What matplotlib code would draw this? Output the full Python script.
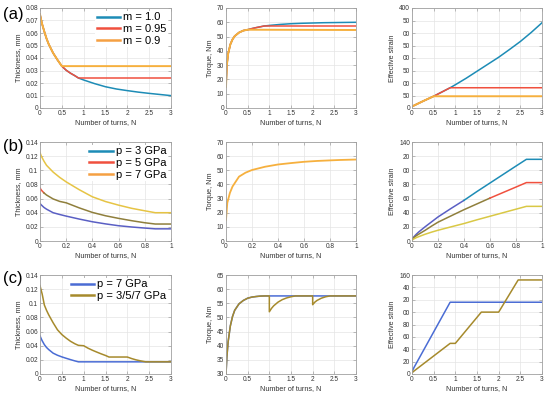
import matplotlib
matplotlib.use("Agg")
import matplotlib.pyplot as plt
from matplotlib.lines import Line2D

plt.rcParams['font.family'] = ['Liberation Sans', 'DejaVu Sans']

# ---------------- data ----------------
# (a) effect of m
N_a = [0, 0.02, 0.05, 0.1, 0.15, 0.2, 0.3, 0.4, 0.5, 0.6, 0.7, 0.8, 0.88,
       1.0, 1.25, 1.5, 1.75, 2.0, 2.25, 2.5, 2.75, 3.0]
h_m10 = [0.075, 0.0715, 0.067, 0.061, 0.0555, 0.051, 0.044, 0.0385, 0.0335, 0.0302,
         0.0278, 0.0258, 0.0240, 0.0224, 0.0195, 0.0170, 0.0152, 0.0139, 0.0127,
         0.0117, 0.0108, 0.0099]
h_m095_flat = 0.0240
h_m09_flat = 0.0335
T_m10 = [15, 30, 38, 44.5, 48, 50.3, 52.8, 54.2, 54.8, 55.6, 56.3, 56.9, 57.4,
         57.8, 58.5, 59.0, 59.3, 59.5, 59.7, 59.8, 59.9, 60.0]
T_m095_flat = 57.4
T_m09_flat = 54.6
N_a_s = [0, 0.25, 0.5, 0.88, 1.0, 1.25, 1.5, 1.75, 2.0, 2.25, 2.5, 2.75, 3.0]
S_m10 = [6, 27, 47, 81, 93, 119, 147, 175, 203, 234, 266, 302, 341]
S_m095_flat = 81
S_m09_flat = 47
legend_a = ['m = 1.0', 'm = 0.95', 'm = 0.9']

# (b) effect of pressure
N_b = [0, 0.01, 0.03, 0.05, 0.1, 0.15, 0.2, 0.3, 0.4, 0.5, 0.6, 0.7, 0.8, 0.88, 1.0]
h_p3 = [0.053, 0.051, 0.0475, 0.045, 0.040, 0.0375, 0.0352, 0.031, 0.0272, 0.0242,
        0.0216, 0.0198, 0.0183, 0.0172, 0.0172]
h_p5 = [0.075, 0.072, 0.068, 0.065, 0.0595, 0.056, 0.054, 0.0468, 0.0404, 0.0357,
        0.032, 0.0287, 0.0258, 0.024, 0.024]
h_p7 = [0.125, 0.12, 0.113, 0.107, 0.0975, 0.090, 0.0836, 0.0725, 0.0625, 0.0558,
        0.0507, 0.0462, 0.0427, 0.040, 0.040]
T_b = [15, 27, 34, 38.5, 45.5, 48.3, 50.2, 52.5, 54.1, 55.1, 56.0, 56.6, 57.0, 57.3, 57.6]
S_p3 = [2, 5, 9, 12.5, 20, 27, 34, 46, 57.5, 70, 82, 94, 106, 115.5, 115.5]
S_p5 = [1.5, 4, 7, 9.5, 15, 21, 26.6, 35.5, 44.3, 52.5, 60.7, 68.5, 76.3, 82.6, 82.6]
S_p7 = [1, 2.5, 4.5, 6, 9.5, 12.5, 15.2, 20, 24.7, 30, 35, 40, 45, 49, 49]
legend_b = ['p = 3 GPa', 'p = 5 GPa', 'p = 7 GPa']

# (c) constant vs stepped pressure
N_c1 = [0, 0.02, 0.05, 0.1, 0.15, 0.2, 0.3, 0.4, 0.5, 0.6, 0.7, 0.8, 0.88, 3.0]
h_c1 = [0.054, 0.051, 0.047, 0.0415, 0.0375, 0.0345, 0.0295, 0.0265, 0.0242, 0.0222,
        0.0203, 0.0185, 0.0172, 0.0172]
N_c2 = [0, 0.02, 0.05, 0.1, 0.15, 0.2, 0.3, 0.4, 0.5, 0.6, 0.7, 0.8, 0.88, 1.0,
        1.1, 1.2, 1.3, 1.4, 1.5, 1.58, 2.0, 2.1, 2.2, 2.3, 2.42, 3.0]
h_c2 = [0.125, 0.12, 0.113, 0.0975, 0.090, 0.0836, 0.0725, 0.0625, 0.0558, 0.0507,
        0.0462, 0.0427, 0.0405, 0.040, 0.0365, 0.0336, 0.031, 0.0285, 0.0262, 0.024,
        0.024, 0.0218, 0.0200, 0.0186, 0.0172, 0.0172]
NT_c1 = [0, 0.02, 0.05, 0.1, 0.15, 0.2, 0.3, 0.4, 0.5, 0.6, 0.7, 0.8, 0.9, 3.0]
T_c1 = [30, 36, 41.5, 47, 50.3, 52.5, 54.8, 56.0, 56.8, 57.2, 57.4, 57.55, 57.6, 57.6]
NT_c2 = [0, 0.02, 0.05, 0.1, 0.15, 0.2, 0.3, 0.4, 0.5, 0.6, 0.7, 0.8, 0.9, 1.0,
         1.0, 1.05, 1.1, 1.2, 1.3, 1.4, 1.5, 1.6, 2.0, 2.0, 2.05, 2.1, 2.2, 2.3, 2.4, 3.0]
T_c2 = [30, 36, 41.5, 47, 50.3, 52.5, 54.8, 56.0, 56.8, 57.2, 57.4, 57.55, 57.6, 57.6,
        52.0, 53.2, 54.1, 55.4, 56.3, 56.9, 57.3, 57.6, 57.6, 54.5, 55.4, 56.0, 56.8,
        57.3, 57.6, 57.6]
NS_c1 = [0, 0.05, 0.88, 3.0]
S_c1 = [4, 11, 116, 116]
NS_c2 = [0, 0.05, 0.88, 1.0, 1.6, 2.0, 2.45, 3.0]
S_c2 = [2, 5, 49.5, 49.5, 100, 100, 152, 152]
legend_c = ['p = 7 GPa', 'p = 3/5/7 GPa']

xt3 = [0, 0.5, 1, 1.5, 2, 2.5, 3]
xtl3 = ['0', '0.5', '1', '1.5', '2', '2.5', '3']
xt_b = [0, 0.2, 0.4, 0.6, 0.8, 1]
xtl_b = ['0', '0.2', '0.4', '0.6', '0.8', '1']
yt_a = [0, 0.01, 0.02, 0.03, 0.04, 0.05, 0.06, 0.07, 0.08]
ytl_a = ['0', '0.01', '0.02', '0.03', '0.04', '0.05', '0.06', '0.07', '0.08']
yt_bc = [0, 0.02, 0.04, 0.06, 0.08, 0.1, 0.12, 0.14]
ytl_bc = ['0', '0.02', '0.04', '0.06', '0.08', '0.1', '0.12', '0.14']

# ---------------- style ----------------
C_BLUE = '#1d8cb6'
C_RED = '#f0503e'
C_ORANGE = '#f6b03e'
C_ORANGE_LEG = '#f5a043'
C_PURPLE = '#5a5fc4'
C_OLIVE = '#8f7f3c'
C_YELLOW = '#e6c444'
C_CBLUE = '#4a6cd4'
C_COLIVE = '#a68a2c'

fig = plt.figure(figsize=(5.5, 3.94), dpi=100)

cols = [40, 226, 412]
widths = [131, 130, 130]
rows = [(8, 108), (142, 241), (275, 374)]
W, H = 550, 394
LBL = 5.2
TICK = 4.7
TXT = '#333333'


def make_ax(r, c):
    top, bot = rows[r]
    ax = fig.add_axes([cols[c] / W, 1 - bot / H, widths[c] / W, (bot - top) / H])
    ax.grid(True, color='#e4e4e4', lw=0.5)
    ax.set_axisbelow(True)
    for s in ax.spines.values():
        s.set_color('#a0a0a0')
        s.set_linewidth(0.6)
    ax.tick_params(direction='in', length=2, width=0.5, color='#a0a0a0',
                   labelsize=TICK, labelcolor=TXT, pad=1.5,
                   top=True, right=True)
    ax.set_xlabel('Number of turns, N', fontsize=LBL, color=TXT, labelpad=1.5)
    return ax


def add_legend(ax, colors, labels):
    hs = [Line2D([], [], color=c, lw=1.8) for c in colors]
    leg = ax.legend(hs, labels, loc='upper right', fontsize=8, frameon=True,
                    handlelength=2.1, handletextpad=0.3, labelspacing=0.15,
                    borderpad=0.15, borderaxespad=0.25, fancybox=False)
    fr = leg.get_frame()
    fr.set_edgecolor('white'); fr.set_facecolor('white'); fr.set_alpha(1)
    fr.set_linewidth(0)


lw = 1.1

# ---- row (a)
ax = make_ax(0, 0)
k = N_a.index(0.88)
k5 = N_a.index(0.5)
ax.plot(N_a, h_m10, color=C_BLUE, lw=lw)
ax.plot(N_a[:k + 1] + [3.0], h_m10[:k + 1] + [h_m095_flat], color=C_RED, lw=lw)
ax.plot(N_a[:k5 + 1] + [3.0], h_m10[:k5 + 1] + [h_m09_flat], color=C_ORANGE, lw=1.4)
ax.set_xlim(0, 3); ax.set_ylim(0, 0.08)
ax.set_xticks(xt3); ax.set_xticklabels(xtl3)
ax.set_yticks(yt_a); ax.set_yticklabels(ytl_a)
ax.set_ylabel('Thickness, mm', fontsize=LBL, color=TXT, labelpad=2)
add_legend(ax, [C_BLUE, C_RED, C_ORANGE_LEG], legend_a)
fig.text(3 / W, 1 - 15 / H, '(a)', fontsize=12, va='center', ha='left')

ax = make_ax(0, 1)
ax.plot(N_a, T_m10, color=C_BLUE, lw=lw)
ax.plot(N_a[:k + 1] + [3.0], T_m10[:k + 1] + [T_m095_flat], color=C_RED, lw=lw)
ax.plot(N_a[:k5 + 1] + [3.0], T_m10[:k5 + 1] + [T_m09_flat], color=C_ORANGE, lw=1.4)
ax.set_xlim(0, 3); ax.set_ylim(0, 70)
ax.set_xticks(xt3); ax.set_xticklabels(xtl3)
ax.set_yticks(range(0, 71, 10))
ax.set_ylabel('Torque, Nm', fontsize=LBL, color=TXT, labelpad=2)

ax = make_ax(0, 2)
ks = N_a_s.index(0.88)
ks5 = N_a_s.index(0.5)
ax.plot(N_a_s, S_m10, color=C_BLUE, lw=lw)
ax.plot(N_a_s[:ks + 1] + [3.0], S_m10[:ks + 1] + [S_m095_flat], color=C_RED, lw=lw)
ax.plot(N_a_s[:ks5 + 1] + [3.0], S_m10[:ks5 + 1] + [S_m09_flat], color=C_ORANGE, lw=1.4)
ax.set_xlim(0, 3); ax.set_ylim(0, 400)
ax.set_xticks(xt3); ax.set_xticklabels(xtl3)
ax.set_yticks(range(0, 401, 50))
ax.set_yticklabels(['0', '50', '00', '50', '00', '50', '00', '50', '400'])
ax.set_ylabel('Effective strain', fontsize=LBL, color=TXT, labelpad=2)

# ---- row (b)
ax = make_ax(1, 0)
ax.plot(N_b, h_p3, color=C_PURPLE, lw=lw)
ax.plot(N_b[:3], h_p5[:3], color=C_RED, lw=lw)
ax.plot(N_b[2:], h_p5[2:], color=C_OLIVE, lw=lw)
ax.plot(N_b, h_p7, color=C_YELLOW, lw=lw)
ax.set_xlim(0, 1); ax.set_ylim(0, 0.14)
ax.set_xticks(xt_b); ax.set_xticklabels(xtl_b)
ax.set_yticks(yt_bc); ax.set_yticklabels(ytl_bc)
ax.set_ylabel('Thickness, mm', fontsize=LBL, color=TXT, labelpad=2)
add_legend(ax, [C_BLUE, C_RED, C_ORANGE_LEG], legend_b)
fig.text(3 / W, 1 - 146 / H, '(b)', fontsize=12, va='center', ha='left')

ax = make_ax(1, 1)
ax.plot(N_b, T_b, color=C_ORANGE, lw=1.3)
ax.set_xlim(0, 1); ax.set_ylim(0, 70)
ax.set_xticks(xt_b); ax.set_xticklabels(xtl_b)
ax.set_yticks(range(0, 71, 10))
ax.set_ylabel('Torque, Nm', fontsize=LBL, color=TXT, labelpad=2)

ax = make_ax(1, 2)
i4 = N_b.index(0.4)
i6 = N_b.index(0.6)
ax.plot(N_b[:i4 + 1], S_p3[:i4 + 1], color=C_PURPLE, lw=lw)
ax.plot(N_b[i4:], S_p3[i4:], color=C_BLUE, lw=lw)
ax.plot(N_b[:i6 + 1], S_p5[:i6 + 1], color=C_OLIVE, lw=lw)
ax.plot(N_b[i6:], S_p5[i6:], color=C_RED, lw=lw)
ax.plot(N_b, S_p7, color='#d9c845', lw=lw)
ax.set_xlim(0, 1); ax.set_ylim(0, 140)
ax.set_xticks(xt_b); ax.set_xticklabels(xtl_b)
ax.set_yticks(range(0, 141, 20))
ax.set_yticklabels(['0', '20', '40', '60', '80', '00', '20', '140'])
ax.set_ylabel('Effective strain', fontsize=LBL, color=TXT, labelpad=2)

# ---- row (c)
ax = make_ax(2, 0)
ax.plot(N_c1, h_c1, color=C_CBLUE, lw=lw)
ax.plot(N_c2, h_c2, color=C_COLIVE, lw=lw)
ax.set_xlim(0, 3); ax.set_ylim(0, 0.14)
ax.set_xticks(xt3); ax.set_xticklabels(xtl3)
ax.set_yticks(yt_bc); ax.set_yticklabels(ytl_bc)
ax.set_ylabel('Thickness, mm', fontsize=LBL, color=TXT, labelpad=2)
add_legend(ax, [C_CBLUE, C_COLIVE], legend_c)
fig.text(3 / W, 1 - 279 / H, '(c)', fontsize=12, va='center', ha='left')

ax = make_ax(2, 1)
ax.plot(NT_c1, T_c1, color=C_CBLUE, lw=lw)
ax.plot(NT_c2, T_c2, color=C_COLIVE, lw=lw)
ax.set_xlim(0, 3); ax.set_ylim(30, 65)
ax.set_xticks(xt3); ax.set_xticklabels(xtl3)
ax.set_yticks(range(30, 66, 5))
ax.set_ylabel('Torque, Nm', fontsize=LBL, color=TXT, labelpad=2)

ax = make_ax(2, 2)
ax.plot(NS_c1, S_c1, color=C_CBLUE, lw=lw)
ax.plot(NS_c2, S_c2, color=C_COLIVE, lw=lw)
ax.set_xlim(0, 3); ax.set_ylim(0, 160)
ax.set_xticks(xt3); ax.set_xticklabels(xtl3)
ax.set_yticks(range(0, 161, 20))
ax.set_yticklabels(['0', '20', '40', '60', '80', '00', '20', '40', '160'])
ax.set_ylabel('Effective strain', fontsize=LBL, color=TXT, labelpad=2)

fig.savefig('out.png', dpi=100)
